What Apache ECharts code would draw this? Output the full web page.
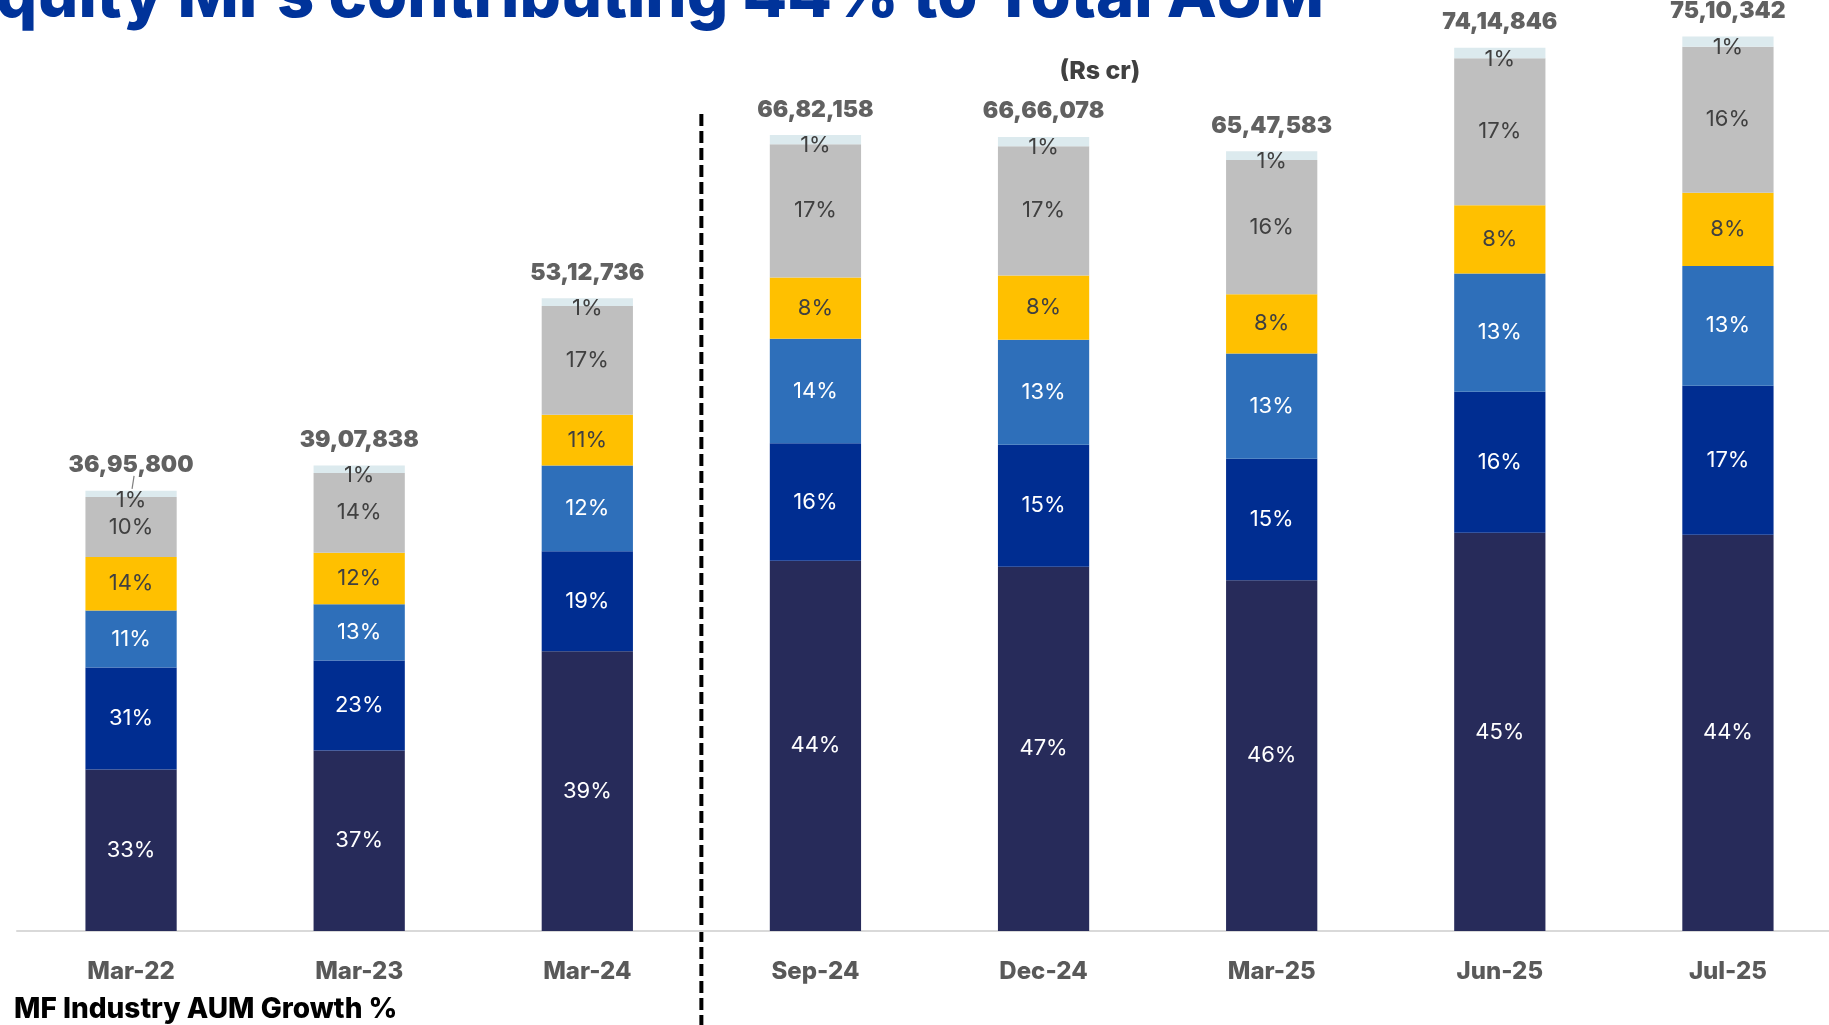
<!DOCTYPE html>
<html>
<head>
<meta charset="utf-8">
<title>MF Industry AUM</title>
<script src="https://cdn.jsdelivr.net/npm/echarts@6/dist/echarts.min.js"></script>
<style>
  html, body { margin: 0; padding: 0; background: #fff; }
  #chart { width: 1829px; height: 1025px; }
</style>
</head>
<body>
<div id="chart"></div>
<script>
// categories
var periods = ['Mar-22', 'Mar-23', 'Mar-24', 'Sep-24', 'Dec-24', 'Mar-25', 'Jun-25', 'Jul-25'];

// total AUM (Rs cr)
var totals = [3695800, 3907838, 5312736, 6682158, 6666078, 6547583, 7414846, 7510342];

// segment sizes (Rs cr), bottom to top
var segDark   = [1355600, 1514500, 2349500, 3109100, 3058500, 2944300, 3343000, 3327100];
var segNavy   = [857400, 757200, 838900, 986300, 1024600, 1021400, 1184800, 1250800];
var segBlue   = [477100, 472600, 720500, 876300, 881800, 882900, 991800, 1005800];
var segYellow = [450900, 432300, 424900, 514600, 538300, 498500, 573900, 614900];
var segGray   = [502300, 668200, 912800, 1119800, 1086700, 1127200, 1235200, 1225600];
var segLight  = [52500, 63000, 66300, 76400, 76400, 73400, 86400, 86400];

// share labels (%) printed on each segment
var pctDark   = [33, 37, 39, 44, 47, 46, 45, 44];
var pctNavy   = [31, 23, 19, 16, 15, 15, 16, 17];
var pctBlue   = [11, 13, 12, 14, 13, 13, 13, 13];
var pctYellow = [14, 12, 11, 8, 8, 8, 8, 8];
var pctGray   = [10, 14, 17, 17, 17, 16, 17, 16];
var pctLight  = [1, 1, 1, 1, 1, 1, 1, 1];

var FONT = 'Inter, "Noto Sans", sans-serif';

// indian digit grouping: 36,95,800
function fmtIN(n) {
	var s = String(n);
	var last3 = s.slice(-3);
	var rest = s.slice(0, -3);
	if (rest) {
		rest = rest.replace(/\B(?=(\d{2})+(?!\d))/g, ',') + ',';
	}
	return rest + last3;
}

function seg(name, data, pcts, color, textColor, offset) {
	return {
		name: name,
		type: 'bar',
		stack: 'aum',
		barWidth: '40%',
		data: data,
		itemStyle: { color: color },
		label: {
			show: true,
			position: 'inside',
			offset: offset || [0, 0],
			color: textColor,
			fontFamily: FONT,
			fontSize: 22,
			fontWeight: 400,
			formatter: function (p) { return pcts[p.dataIndex] + '%'; }
		},
		emphasis: { disabled: true }
	};
}

var chart = echarts.init(document.getElementById('chart'));

var option = {
	animation: false,
	backgroundColor: '#ffffff',
	grid: {
		left: 17,
		width: 1825,
		top: 2,
		bottom: 94,
		containLabel: false,
		outerBoundsMode: 'none'
	},
	xAxis: {
		type: 'category',
		data: periods,
		axisTick: { show: false },
		axisLine: { lineStyle: { color: '#d9d9d9', width: 2 } },
		axisLabel: {
			color: '#595959',
			fontFamily: FONT,
			fontSize: 24,
			fontWeight: 800,
			margin: 29
		}
	},
	yAxis: {
		type: 'value',
		min: 0,
		max: 7800000,
		show: false,
		splitLine: { show: false }
	},
	series: [
		seg('dark', segDark, pctDark, '#272b5a', '#ffffff'),
		seg('navy', segNavy, pctNavy, '#002d91', '#ffffff'),
		seg('blue', segBlue, pctBlue, '#2e6fba', '#ffffff'),
		seg('yellow', segYellow, pctYellow, '#ffc000', '#404040'),
		seg('gray', segGray, pctGray, '#bfbfbf', '#404040'),
		seg('light', segLight, pctLight, '#dceaee', '#404040', [0, 6]),
		{
			name: 'total',
			type: 'scatter',
			data: totals,
			symbolSize: 0,
			silent: true,
			label: {
				show: true,
				position: 'top',
				distance: 14,
				color: '#3a3a3a',
				fontFamily: FONT,
				fontSize: 23,
				fontWeight: 900,
				formatter: function (p) { return fmtIN(totals[p.dataIndex]); }
			}
		}
	]
};
chart.setOption(option);

// dashed divider between historical years and recent quarters
var xA = chart.convertToPixel({ xAxisIndex: 0 }, 'Mar-24');
var xB = chart.convertToPixel({ xAxisIndex: 0 }, 'Sep-24');
var xMid = (xA + xB) / 2;

// little leader stroke under the first total label
var p0 = chart.convertToPixel({ xAxisIndex: 0, yAxisIndex: 0 }, [0, totals[0]]);

chart.setOption({
	graphic: [
		{
			type: 'line',
			shape: { x1: xMid, y1: 114, x2: xMid, y2: 1025 },
			style: { stroke: '#000000', lineWidth: 4, lineDash: [12, 5] },
			silent: true
		},
		{
			type: 'line',
			shape: { x1: p0[0] + 3, y1: p0[1] - 15, x2: p0[0] + 1, y2: p0[1] - 2 },
			style: { stroke: '#7f7f7f', lineWidth: 1.2 },
			silent: true
		},
		{
			type: 'text',
			left: -44,
			top: -35,
			style: {
				text: 'Equity MFs contributing 44% to Total AUM',
				fill: '#00339a',
				font: '800 65px ' + FONT
			}
		},
		{
			type: 'text',
			x: 1100,
			y: 71,
			style: {
				text: '(Rs cr)',
				fill: '#404040',
				font: '800 25px ' + FONT,
				textAlign: 'center',
				textVerticalAlign: 'middle'
			}
		},
		{
			type: 'text',
			left: 14,
			top: 996,
			style: {
				text: 'MF Industry AUM Growth %',
				fill: '#000000',
				font: '800 28px ' + FONT
			}
		}
	]
});
</script>
</body>
</html>
